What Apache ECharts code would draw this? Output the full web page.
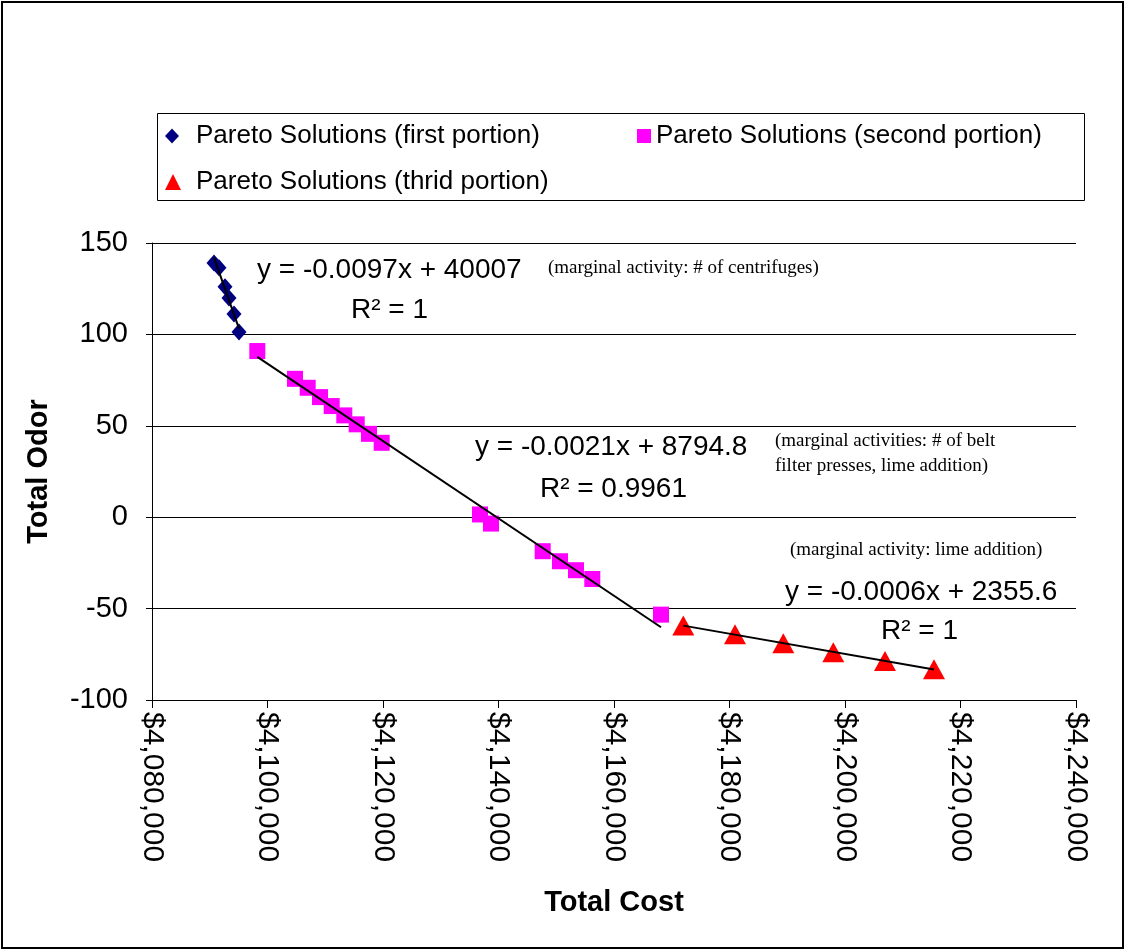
<!DOCTYPE html>
<html>
<head>
<meta charset="utf-8">
<script src="https://cdn.jsdelivr.net/npm/echarts@6/dist/echarts.min.js"></script>
<style>
  html, body { margin: 0; padding: 0; background: #fff; }
  #chart { width: 1126px; height: 951px; }
</style>
</head>
<body>
<div id="chart"></div>
<script>
// Pareto front: total cost ($) vs total odor, split into three portions
const seriesNames = [
  'Pareto Solutions (first portion)',
  'Pareto Solutions (second portion)',
  'Pareto Solutions (thrid portion)'
];

const firstCost  = [4090736, 4091602, 4092641, 4093333, 4094199, 4095065];
const firstOdor  = [139.1, 136.4, 126.0, 119.9, 111.2, 101.3];

const secondCost = [4098234, 4104762, 4106961, 4109091, 4111117, 4113299, 4115446, 4117576,
                    4119775, 4136797, 4138701, 4147654, 4150649, 4153420, 4156242, 4168139];
const secondOdor = [90.9, 75.7, 70.8, 65.7, 60.8, 55.7, 50.8, 45.6,
                    40.7, 1.5, -3.5, -18.6, -24.1, -29.0, -33.8, -53.3];

const thirdCost  = [4172000, 4180952, 4189316, 4197974, 4206926, 4215411];
const thirdOdor  = [-59.3, -64.1, -69.0, -73.9, -78.6, -83.2];

const costTicks = [4080000, 4240000, 20000];   // min, max, step
const odorTicks = [-100, 150, 50];             // min, max, step

const trendTexts = [
  { eq: 'y = -0.0097x + 40007', r2: 'R² = 1',      note: '(marginal activity: # of centrifuges)' },
  { eq: 'y = -0.0021x + 8794.8', r2: 'R² = 0.9961', note: '(marginal activities: # of belt\nfilter presses, lime addition)' },
  { eq: 'y = -0.0006x + 2355.6', r2: 'R² = 1',      note: '(marginal activity: lime addition)' }
];

const SANS = '"Liberation Sans", Arial, sans-serif';
const SERIF = '"Liberation Serif", "Times New Roman", serif';

function pairs(xs, ys) { return xs.map((x, i) => [x, ys[i]]); }

// least-squares line over the x-range of the points
function trend(xs, ys) {
  const n = xs.length;
  const mx = xs.reduce((a, b) => a + b, 0) / n;
  const my = ys.reduce((a, b) => a + b, 0) / n;
  let sxy = 0, sxx = 0;
  for (let i = 0; i < n; i++) { sxy += (xs[i] - mx) * (ys[i] - my); sxx += (xs[i] - mx) ** 2; }
  const b = sxy / sxx, a = my - b * mx;
  const x0 = Math.min(...xs), x1 = Math.max(...xs);
  return [[x0, a + b * x0], [x1, a + b * x1]];
}

function money(v) {
  return '$' + String(Math.round(v)).replace(/\B(?=(\d{3})+(?!\d))/g, ',');
}

const chart = echarts.init(document.getElementById('chart'), null, { renderer: 'canvas' });

const legendBase = {
  orient: 'horizontal', padding: 0, itemWidth: 14, itemHeight: 15,
  textStyle: { fontFamily: SANS, fontSize: 26, color: '#000' },
  selectedMode: false
};

function trendLine(xs, ys) {
  return {
    type: 'line', data: trend(xs, ys), symbol: 'none', silent: true, z: 5,
    lineStyle: { color: '#000', width: 2 }
  };
}

const eqStyle = { fontFamily: SANS, fontSize: 28, fill: '#000' };
const noteStyle = { fontFamily: SERIF, fontSize: 19, fill: '#000', lineHeight: 25 };

function label(x, y, text, style, align) {
  return { type: 'text', x: x, y: y, silent: true,
    style: Object.assign({ text: text, align: align || 'left', verticalAlign: 'middle' }, style) };
}

chart.setOption({
  animation: false,
  backgroundColor: '#fff',
  grid: { left: 152, right: 50, top: 243, bottom: 251, containLabel: false },
  legend: [
    Object.assign({}, legendBase, { left: 165, top: 123,
      textStyle: Object.assign({}, legendBase.textStyle, { padding: [0, 0, 0, 12] }),
      data: [{ name: seriesNames[0], icon: 'diamond' }] }),
    Object.assign({}, legendBase, { left: 637, top: 123, itemWidth: 14, itemHeight: 14,
      data: [{ name: seriesNames[1], icon: 'rect' }] }),
    Object.assign({}, legendBase, { left: 165, top: 169, itemWidth: 16, itemHeight: 16,
      textStyle: Object.assign({}, legendBase.textStyle, { padding: [0, 0, 0, 10] }),
      data: [{ name: seriesNames[2], icon: 'triangle' }] })
  ],
  xAxis: {
    type: 'value', min: costTicks[0], max: costTicks[1], interval: costTicks[2],
    name: 'Total Cost', nameLocation: 'middle', nameGap: 188,
    nameTextStyle: { fontFamily: SANS, fontSize: 29, fontWeight: 'bold', color: '#000' },
    axisLine: { onZero: false, lineStyle: { color: '#000', width: 1 } },
    axisTick: { show: true, length: 8, lineStyle: { color: '#000' } },
    axisLabel: { rotate: -90, margin: 12, fontFamily: SANS, fontSize: 30, color: '#000', formatter: money },
    splitLine: { show: false }
  },
  yAxis: {
    type: 'value', min: odorTicks[0], max: odorTicks[1], interval: odorTicks[2],
    name: 'Total Odor', nameLocation: 'middle', nameGap: 99, nameRotate: 90,
    nameTextStyle: { fontFamily: SANS, fontSize: 29, fontWeight: 'bold', color: '#000' },
    axisLine: { show: true, lineStyle: { color: '#000', width: 1 } },
    axisTick: { show: true, length: 6, lineStyle: { color: '#000' } },
    axisLabel: { margin: 24, fontFamily: SANS, fontSize: 29, color: '#000' },
    splitLine: { show: true, lineStyle: { color: '#000', width: 1 } }
  },
  series: [
    { name: seriesNames[0], type: 'scatter', symbol: 'diamond', symbolSize: [15, 17],
      itemStyle: { color: '#000080', opacity: 1 }, data: pairs(firstCost, firstOdor), z: 3 },
    { name: seriesNames[1], type: 'scatter', symbol: 'rect', symbolSize: 16,
      itemStyle: { color: '#FF00FF', opacity: 1 }, data: pairs(secondCost, secondOdor), z: 3 },
    { name: seriesNames[2], type: 'scatter', symbol: 'triangle', symbolSize: [22, 20],
      itemStyle: { color: '#FF0000', opacity: 1 }, data: pairs(thirdCost, thirdOdor), z: 3 },
    trendLine(firstCost, firstOdor),
    trendLine(secondCost, secondOdor),
    trendLine(thirdCost, thirdOdor)
  ],
  graphic: [
    { type: 'rect', shape: { x: 2, y: 2, width: 1121, height: 946 }, silent: true, z: 100,
      style: { fill: 'none', stroke: '#000', lineWidth: 2 } },
    { type: 'rect', shape: { x: 157.5, y: 113.5, width: 927, height: 87 }, silent: true, z: 100,
      style: { fill: 'none', stroke: '#000', lineWidth: 1 } },
    label(257, 270, trendTexts[0].eq, eqStyle),
    label(428, 310, trendTexts[0].r2, eqStyle, 'right'),
    label(548, 268, trendTexts[0].note, noteStyle),
    label(475, 447, trendTexts[1].eq, eqStyle),
    label(687, 489, trendTexts[1].r2, eqStyle, 'right'),
    label(775, 454, trendTexts[1].note, noteStyle),
    label(790, 550, trendTexts[2].note, noteStyle),
    label(785, 592, trendTexts[2].eq, eqStyle),
    label(958, 631, trendTexts[2].r2, eqStyle, 'right')
  ]
});
</script>
</body>
</html>
